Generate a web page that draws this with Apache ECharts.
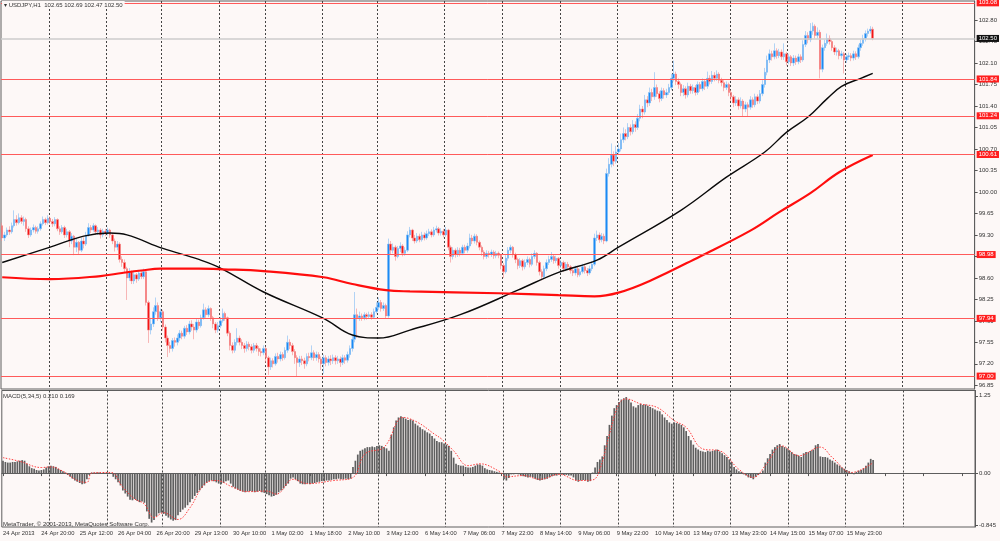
<!DOCTYPE html>
<html>
<head>
<meta charset="utf-8">
<title>USDJPY,H1</title>
<script src="https://cdn.jsdelivr.net/npm/echarts@6.0.0/dist/echarts.min.js"></script>
<style>
  html, body { margin: 0; padding: 0; background: #fdf8f7; }
  #chart { width: 1000px; height: 541px; }
</style>
</head>
<body>
<div id="chart"></div>
<script>
// USDJPY H1 bars (24 Apr 2013 04:00 .. 16 May)
// each bar opens at the previous close, the first one at firstOpen
const firstOpen = 99.45;

const closes = [
  99.25,99.30,99.38,99.35,99.45,99.55,99.50,99.58,99.52,99.55,
  99.40,99.30,99.38,99.42,99.36,99.40,99.48,99.55,99.50,99.57,
  99.52,99.48,99.55,99.40,99.35,99.42,99.30,99.35,99.20,99.28,
  99.10,99.18,99.05,99.20,99.15,99.30,99.42,99.38,99.45,99.35,
  99.38,99.30,99.36,99.33,99.38,99.30,99.20,99.10,99.15,98.90,
  98.85,98.75,98.60,98.70,98.55,98.65,98.58,98.68,98.62,98.70,
  98.20,97.75,97.85,98.05,98.15,97.95,98.05,97.80,97.62,97.50,
  97.45,97.58,97.55,97.62,97.70,97.65,97.78,97.72,97.85,97.80,
  97.75,97.88,97.82,97.95,98.08,98.00,98.10,97.95,97.85,97.75,
  97.82,97.90,98.02,97.95,97.70,97.50,97.42,97.55,97.62,97.55,
  97.50,97.45,97.52,97.48,97.42,97.50,97.45,97.40,97.38,97.45,
  97.30,97.15,97.25,97.20,97.32,97.28,97.35,97.30,97.42,97.55,
  97.50,97.40,97.30,97.22,97.28,97.25,97.20,97.32,97.30,97.38,
  97.30,97.35,97.28,97.20,97.30,97.22,97.28,97.25,97.30,97.25,
  97.28,97.22,97.30,97.26,97.35,97.45,97.60,98.00,97.95,97.98,
  97.95,98.00,97.97,98.00,97.96,98.05,98.12,98.20,98.10,98.15,
  97.98,99.15,99.05,99.10,98.95,99.08,99.12,99.00,99.05,99.30,
  99.38,99.25,99.20,99.28,99.22,99.30,99.25,99.32,99.35,99.30,
  99.38,99.40,99.33,99.36,99.30,99.38,99.10,98.95,99.05,98.98,
  99.05,99.00,99.10,99.05,99.12,99.25,99.20,99.28,99.18,99.10,
  99.02,98.95,99.00,98.98,99.02,98.96,99.00,98.97,98.80,98.70,
  98.92,99.05,99.10,98.98,98.90,98.80,98.88,98.78,98.85,98.90,
  98.82,98.95,99.00,98.85,98.70,98.62,98.75,98.85,98.90,98.95,
  98.88,98.92,98.80,98.85,98.75,98.82,98.78,98.72,98.68,98.75,
  98.65,98.70,98.78,98.72,98.68,98.75,98.82,99.25,99.30,99.22,
  99.28,99.20,100.30,100.45,100.60,100.50,100.65,100.70,100.85,100.95,
  100.90,101.05,100.98,101.10,101.05,101.20,101.35,101.30,101.50,101.45,
  101.62,101.55,101.70,101.60,101.52,101.65,101.58,101.62,101.70,101.85,
  101.92,101.80,101.75,101.62,101.68,101.58,101.72,101.65,101.70,101.62,
  101.75,101.68,101.80,101.72,101.85,101.80,101.90,101.85,101.92,101.82,
  101.78,101.70,101.75,101.62,101.55,101.45,101.50,101.40,101.48,101.35,
  101.42,101.38,101.50,101.42,101.55,101.48,101.60,101.75,101.95,102.15,
  102.25,102.20,102.30,102.22,102.28,102.20,102.25,102.12,102.20,102.10,
  102.18,102.12,102.20,102.15,102.40,102.55,102.48,102.62,102.70,102.55,
  102.60,102.00,102.35,102.42,102.50,102.45,102.35,102.28,102.30,102.22,
  102.25,102.15,102.20,102.22,102.18,102.25,102.20,102.35,102.42,102.50,
  102.58,102.62,102.65,102.50
];

const highs = [
  99.50,99.35,99.42,99.44,99.50,99.70,99.62,99.65,99.62,99.60,
  99.58,99.44,99.42,99.47,99.45,99.44,99.52,99.60,99.58,99.62,
  99.60,99.56,99.59,99.57,99.44,99.46,99.45,99.40,99.38,99.33,
  99.30,99.24,99.20,99.25,99.26,99.35,99.49,99.46,99.49,99.47,
  99.43,99.41,99.40,99.40,99.42,99.40,99.33,99.24,99.20,99.18,
  98.95,98.90,98.78,98.76,98.72,98.70,98.68,98.73,98.72,98.75,
  98.72,98.23,97.95,98.12,98.28,98.20,98.10,98.08,97.84,97.66,
  97.56,97.62,97.63,97.68,97.75,97.74,97.82,97.83,97.90,97.91,
  97.85,97.93,97.92,98.00,98.18,98.12,98.15,98.12,97.98,97.88,
  97.88,97.96,98.10,98.05,97.97,97.73,97.55,97.60,97.78,97.66,
  97.60,97.54,97.57,97.56,97.52,97.54,97.54,97.49,97.45,97.50,
  97.48,97.33,97.30,97.29,97.37,97.38,97.40,97.39,97.47,97.66,
  97.60,97.54,97.44,97.34,97.33,97.33,97.30,97.37,97.38,97.50,
  97.42,97.40,97.39,97.32,97.35,97.34,97.33,97.34,97.35,97.34,
  97.33,97.32,97.35,97.34,97.40,97.50,97.66,98.37,98.10,98.05,
  98.02,98.04,98.03,98.05,98.04,98.10,98.20,98.28,98.24,98.20,
  98.18,99.24,99.20,99.16,99.13,99.12,99.18,99.15,99.10,99.36,
  99.43,99.40,99.30,99.33,99.32,99.35,99.34,99.37,99.40,99.39,
  99.43,99.45,99.43,99.41,99.40,99.43,99.40,99.13,99.10,99.08,
  99.10,99.09,99.14,99.14,99.17,99.32,99.30,99.32,99.31,99.21,
  99.13,99.05,99.05,99.04,99.06,99.05,99.04,99.03,98.99,98.84,
  98.97,99.10,99.14,99.12,99.01,98.93,98.92,98.91,98.90,98.95,
  98.93,99.00,99.05,99.02,98.88,98.74,98.80,98.90,98.96,99.02,
  98.98,98.96,98.94,98.89,98.88,98.86,98.86,98.81,98.76,98.80,
  98.78,98.75,98.83,98.81,98.76,98.80,98.87,99.32,99.37,99.34,
  99.33,99.32,100.38,100.55,100.79,100.66,100.75,100.80,100.95,101.05,
  101.02,101.12,101.10,101.17,101.15,101.27,101.42,101.40,101.58,101.56,
  101.70,101.68,101.95,101.75,101.64,101.70,101.69,101.68,101.76,101.92,
  102.14,101.96,101.85,101.78,101.74,101.72,101.78,101.76,101.75,101.74,
  101.80,101.79,101.85,101.84,101.96,101.90,101.97,101.95,101.98,101.95,
  101.86,101.82,101.80,101.78,101.66,101.58,101.56,101.54,101.54,101.51,
  101.47,101.46,101.56,101.54,101.60,101.59,101.66,101.82,102.02,102.22,
  102.32,102.30,102.42,102.34,102.33,102.32,102.42,102.28,102.25,102.23,
  102.23,102.22,102.25,102.24,102.47,102.62,102.60,102.75,102.76,102.73,
  102.68,102.64,102.40,102.48,102.58,102.55,102.48,102.39,102.35,102.33,
  102.30,102.28,102.25,102.27,102.26,102.30,102.29,102.40,102.48,102.56,
  102.63,102.66,102.70,102.69
];

const lows = [
  99.20,99.20,99.27,99.30,99.32,99.42,99.45,99.47,99.48,99.45,
  99.35,99.25,99.27,99.34,99.32,99.32,99.37,99.45,99.46,99.47,
  99.48,99.43,99.44,99.36,99.30,99.32,99.25,99.26,99.10,99.15,
  98.97,99.02,98.98,99.02,99.08,99.12,99.27,99.33,99.35,99.30,
  99.30,99.24,99.26,99.28,99.29,99.25,99.15,99.03,99.05,98.85,
  98.78,98.68,98.24,98.55,98.50,98.50,98.52,98.55,98.58,98.58,
  98.15,97.54,97.68,97.80,98.00,97.90,97.88,97.74,97.55,97.31,
  97.38,97.40,97.48,97.50,97.57,97.60,97.61,97.67,97.68,97.74,
  97.60,97.71,97.77,97.79,97.92,97.95,97.96,97.90,97.78,97.70,
  97.71,97.78,97.87,97.90,97.65,97.42,97.37,97.38,97.50,97.50,
  97.44,97.38,97.40,97.42,97.37,97.38,97.40,97.33,97.32,97.34,
  97.22,97.02,97.10,97.14,97.17,97.22,97.24,97.25,97.27,97.38,
  97.44,97.34,97.20,97.00,97.15,97.18,97.12,97.16,97.24,97.26,
  97.25,97.25,97.22,97.10,97.04,97.16,97.17,97.18,97.20,97.19,
  97.20,97.15,97.18,97.20,97.22,97.30,97.40,97.55,97.62,97.90,
  97.90,97.91,97.92,97.93,97.92,97.93,98.02,98.08,98.05,98.06,
  97.94,97.95,98.98,99.00,98.88,98.92,99.02,98.95,98.96,99.02,
  99.26,99.20,99.16,99.17,99.18,99.19,99.21,99.22,99.28,99.26,
  99.27,99.34,99.29,99.29,99.26,99.27,99.05,98.85,98.90,98.93,
  98.94,98.95,98.97,99.00,99.01,99.08,99.15,99.16,99.13,99.05,
  98.96,98.90,98.91,98.93,98.94,98.91,98.92,98.92,98.74,98.60,
  98.67,98.88,99.00,98.93,98.84,98.74,98.76,98.72,98.74,98.81,
  98.77,98.79,98.91,98.80,98.64,98.56,98.59,98.71,98.81,98.86,
  98.83,98.84,98.75,98.76,98.70,98.71,98.73,98.67,98.63,98.64,
  98.61,98.62,98.67,98.67,98.63,98.65,98.71,98.79,99.20,99.17,
  99.18,99.15,99.18,100.25,100.40,100.42,100.46,100.60,100.66,100.80,
  100.84,100.86,100.92,100.94,100.98,101.01,101.15,101.20,101.26,101.38,
  101.40,101.48,101.50,101.55,101.46,101.48,101.52,101.53,101.58,101.66,
  101.80,101.74,101.68,101.56,101.56,101.52,101.54,101.60,101.60,101.57,
  101.58,101.63,101.64,101.66,101.68,101.75,101.76,101.80,101.81,101.77,
  101.72,101.64,101.66,101.56,101.48,101.38,101.40,101.34,101.36,101.22,
  101.30,101.22,101.34,101.37,101.38,101.43,101.44,101.56,101.70,101.90,
  102.10,102.14,102.16,102.17,102.18,102.15,102.15,102.06,102.08,102.05,
  102.05,102.07,102.08,102.10,102.12,102.36,102.42,102.44,102.56,102.50,
  102.50,101.85,101.95,102.30,102.38,102.40,102.30,102.23,102.22,102.16,
  102.17,101.93,102.10,102.15,102.13,102.14,102.15,102.17,102.30,102.38,
  102.45,102.53,102.58,102.47
];

// MACD(5,34,5) main histogram, one value per bar
const macd = [
  0.20,0.18,0.17,0.17,0.18,0.18,0.19,0.20,0.21,0.20,
  0.15,0.11,0.08,0.07,0.05,0.04,0.05,0.06,0.09,0.11,
  0.12,0.11,0.10,0.07,0.05,0.03,0.01,-0.03,-0.06,-0.09,
  -0.12,-0.14,-0.16,-0.18,-0.17,-0.10,-0.03,0.01,0.01,0.01,
  0.01,0.00,0.01,0.00,0.00,-0.01,-0.06,-0.10,-0.15,-0.20,
  -0.28,-0.33,-0.38,-0.43,-0.44,-0.42,-0.45,-0.47,-0.46,-0.48,
  -0.62,-0.74,-0.80,-0.76,-0.70,-0.65,-0.64,-0.66,-0.69,-0.72,
  -0.75,-0.77,-0.76,-0.68,-0.63,-0.59,-0.56,-0.52,-0.47,-0.42,
  -0.37,-0.32,-0.28,-0.24,-0.20,-0.16,-0.13,-0.12,-0.13,-0.15,
  -0.17,-0.18,-0.16,-0.13,-0.12,-0.17,-0.22,-0.25,-0.27,-0.29,
  -0.30,-0.31,-0.30,-0.29,-0.30,-0.31,-0.30,-0.29,-0.31,-0.32,
  -0.34,-0.36,-0.38,-0.37,-0.35,-0.31,-0.28,-0.25,-0.21,-0.17,
  -0.09,-0.07,-0.10,-0.13,-0.17,-0.18,-0.18,-0.17,-0.18,-0.17,
  -0.16,-0.15,-0.14,-0.13,-0.13,-0.12,-0.12,-0.11,-0.10,-0.10,
  -0.09,-0.10,-0.10,-0.09,-0.10,-0.09,0.10,0.20,0.30,0.36,
  0.38,0.40,0.42,0.42,0.43,0.42,0.44,0.45,0.44,0.42,
  0.40,0.36,0.62,0.74,0.85,0.90,0.92,0.90,0.88,0.86,
  0.87,0.85,0.80,0.77,0.74,0.71,0.69,0.66,0.64,0.60,
  0.56,0.52,0.50,0.50,0.48,0.46,0.44,0.36,0.25,0.15,
  0.13,0.12,0.12,0.10,0.09,0.09,0.10,0.12,0.14,0.14,
  0.12,0.08,0.06,0.05,0.04,0.03,0.02,0.01,0.00,-0.10,
  -0.12,-0.08,-0.02,-0.02,-0.01,-0.02,-0.04,-0.05,-0.06,-0.07,
  -0.06,-0.07,-0.09,-0.11,-0.12,-0.11,-0.10,-0.09,-0.07,-0.05,
  -0.04,-0.04,-0.02,-0.02,-0.03,-0.03,-0.04,-0.04,-0.07,-0.12,
  -0.14,-0.12,-0.11,-0.12,-0.14,-0.13,0.01,0.09,0.18,0.22,
  0.27,0.45,0.60,0.78,0.93,1.05,1.10,1.15,1.19,1.21,
  1.23,1.19,1.14,1.08,1.06,1.10,1.12,1.10,1.11,1.09,
  1.07,1.05,1.03,1.01,1.00,0.95,0.90,0.86,0.82,0.80,
  0.82,0.81,0.80,0.78,0.74,0.68,0.60,0.53,0.46,0.41,
  0.38,0.36,0.35,0.34,0.36,0.35,0.36,0.37,0.38,0.35,
  0.32,0.29,0.26,0.22,0.18,0.10,0.06,0.03,0.02,-0.02,
  -0.04,-0.07,-0.08,-0.10,-0.06,-0.03,0.00,0.04,0.17,0.24,
  0.31,0.38,0.42,0.45,0.47,0.44,0.42,0.40,0.37,0.34,
  0.31,0.30,0.28,0.26,0.32,0.34,0.34,0.36,0.38,0.45,
  0.47,0.27,0.26,0.26,0.25,0.22,0.20,0.17,0.14,0.12,
  0.09,0.07,0.05,0.03,0.01,-0.02,0.02,0.04,0.05,0.08,
  0.12,0.17,0.23,0.21
];

// signal line (red dotted), [bar, value] as read at visible turns
const signalPts = [
  [0,0.25],[7,0.19],[16,0.09],[20,0.10],[25,0.03],[31,-0.12],[35,-0.15],[37,0.00],
  [45,0.01],[50,-0.23],[55,-0.42],[59,-0.50],[63,-0.72],[67,-0.64],[73,-0.75],
  [78,-0.56],[84,-0.18],[89,-0.12],[96,-0.23],[102,-0.30],[110,-0.29],[114,-0.34],
  [121,-0.10],[127,-0.17],[138,-0.12],[146,-0.07],[151,0.31],[159,0.42],[167,0.90],
  [173,0.82],[180,0.63],[183,0.55],[188,0.36],[194,0.12],[199,0.15],[207,0.03],
  [210,-0.06],[217,-0.04],[224,-0.10],[232,-0.02],[240,-0.12],[246,-0.11],[249,0.06],
  [253,0.63],[257,1.12],[260,1.20],[266,1.12],[273,1.06],[280,0.85],[285,0.74],
  [292,0.39],[299,0.36],[307,0.06],[313,-0.07],[318,0.12],[325,0.44],[332,0.28],
  [341,0.42],[346,0.25],[354,0.01],[363,0.169]
];

// moving averages, [bar, price]
const maBlackPts = [
  [0,98.85],[20,99.10],[34,99.28],[45,99.33],[52,99.30],[67,99.08],[82,98.90],
  [91,98.76],[109,98.37],[134,97.94],[146,97.67],[157,97.62],[170,97.75],[191,98.00],
  [215,98.40],[232,98.69],[248,98.89],[257,99.10],[283,99.70],[302,100.24],
  [318,100.65],[327,100.97],[336,101.22],[344,101.52],[350,101.72],[358,101.85],[363,101.93]
];
const maRedPts = [
  [0,98.61],[20,98.58],[41,98.63],[50,98.68],[58,98.72],[66,98.75],[82,98.75],
  [92,98.74],[109,98.71],[134,98.61],[146,98.50],[160,98.40],[170,98.38],[207,98.35],
  [232,98.32],[247,98.30],[257,98.36],[270,98.55],[291,98.95],[312,99.37],
  [324,99.67],[337,99.98],[349,100.32],[363,100.60]
];

const levels = [103.08, 101.84, 101.24, 100.61, 98.98, 97.94, 97.00];
const lastPrice = 102.50;

const priceTicks = [96.85, 97.20, 97.55, 97.90, 98.25, 98.60, 98.95, 99.30, 99.65,
  100.00, 100.35, 100.70, 101.05, 101.40, 101.75, 102.10, 102.45, 102.80];
const macdTicks = [1.25, 0, -0.845];

// one label every 16 bars
const xLabels = ['24 Apr 2013', '24 Apr 20:00', '25 Apr 12:00', '26 Apr 04:00', '26 Apr 20:00',
  '29 Apr 13:00', '30 Apr 10:00', '1 May 02:00', '1 May 18:00', '2 May 10:00', '3 May 12:00',
  '6 May 14:00', '7 May 06:00', '7 May 22:00', '8 May 14:00', '9 May 06:00', '9 May 22:00',
  '10 May 14:00', '13 May 07:00', '13 May 23:00', '14 May 15:00', '15 May 07:00', '15 May 23:00'];

// bars where a new day starts (dotted vertical grid)
const dayBreaks = [20, 44, 67, 91, 110, 134, 157, 185, 209, 233, 257, 280, 304, 328, 352, 376];

const SLOTS = 406;   // bars + empty shift area on the right

// ── build ────────────────────────────────────────────────────────────────
const BG = '#fdf8f7';
const FONT = 'Liberation Sans';
const slots = Array.from({ length: SLOTS }, (_, i) => String(i));
const candles = closes.map((c, i) => [i ? closes[i - 1] : firstOpen, c, lows[i], highs[i]]);

const gridSplit = {
  show: true,
  interval: (i) => dayBreaks.includes(i),
  lineStyle: { color: '#444', type: [2, 2], width: 1 }
};

const chart = echarts.init(document.getElementById('chart'), null, { renderer: 'canvas' });

chart.setOption({
  animation: false,
  backgroundColor: BG,
  textStyle: { fontFamily: FONT },
  title: [
    {
      text: '\u25BE USDJPY,H1  102.65 102.69 102.47 102.50',
      left: 2, top: 1, padding: [1, 2],
      backgroundColor: BG,
      textStyle: { fontSize: 6, fontWeight: 'normal', color: '#333', fontFamily: FONT }
    },
    {
      text: 'MACD(5,34,5) 0.210 0.169',
      left: 3, top: 393, padding: 0,
      textStyle: { fontSize: 6, fontWeight: 'normal', color: '#333', fontFamily: FONT }
    },
    {
      text: 'MetaTrader, \u00A9 2001-2013, MetaQuotes Software Corp.',
      left: 3, top: 521, padding: 0,
      textStyle: { fontSize: 6, fontWeight: 'normal', color: '#333', fontFamily: FONT }
    }
  ],
  grid: [
    { left: 1, right: 25, top: 1, height: 388, show: true, borderColor: '#5e5e5e', borderWidth: 1, backgroundColor: 'transparent' },
    { left: 1, right: 25, top: 390.5, height: 136.5, show: true, borderColor: '#5e5e5e', borderWidth: 1, backgroundColor: 'transparent' }
  ],
  xAxis: [
    {
      type: 'category', gridIndex: 0, data: slots,
      axisLine: { show: false }, axisTick: { show: false }, axisLabel: { show: false },
      splitLine: gridSplit
    },
    {
      type: 'category', gridIndex: 1, data: slots,
      axisLine: { show: true, lineStyle: { color: '#5e5e5e' } },
      axisTick: { show: true, interval: 15, alignWithLabel: true, length: 3, lineStyle: { color: '#555' } },
      axisLabel: {
        interval: 15, align: 'left', margin: 3,
        fontSize: 5.8, color: '#333', fontFamily: FONT,
        formatter: (v, i) => xLabels[i / 16] || ''
      },
      splitLine: gridSplit
    }
  ],
  yAxis: [
    {
      type: 'value', gridIndex: 0, position: 'right',
      min: 96.79, max: 103.11,
      axisLine: { show: true, lineStyle: { color: '#5e5e5e' } },
      axisTick: { show: true, customValues: priceTicks, length: 3, lineStyle: { color: '#555' } },
      axisLabel: {
        customValues: priceTicks, margin: 4,
        fontSize: 6, color: '#333', fontFamily: FONT,
        formatter: (v) => v.toFixed(2)
      },
      splitLine: { show: false }
    },
    {
      type: 'value', gridIndex: 1, position: 'right',
      min: -0.872, max: 1.336,
      axisLine: { show: true, lineStyle: { color: '#5e5e5e' } },
      axisTick: { show: true, customValues: macdTicks, length: 3, lineStyle: { color: '#555' } },
      axisLabel: {
        customValues: macdTicks, margin: 4,
        fontSize: 6, color: '#333', fontFamily: FONT,
        formatter: (v) => (v === -0.845 ? '-0.845' : v.toFixed(2))
      },
      splitLine: { show: false }
    }
  ],
  series: [
    {
      name: 'USDJPY', type: 'candlestick', xAxisIndex: 0, yAxisIndex: 0,
      data: candles, barWidth: 2,
      itemStyle: {
        color: '#1a8af5', color0: '#f41414',
        borderColor: '#7fbaf3', borderColor0: '#f38a8a', borderWidth: 0.6
      },
      markLine: {
        silent: true, symbol: 'none', animation: false,
        data: [
          ...levels.map((v) => ({
            yAxis: v,
            lineStyle: { color: '#ff5a5a', width: 1, type: 'solid' },
            label: {
              show: true, position: 'end', distance: 2,
              formatter: v.toFixed(2), color: '#fff', backgroundColor: '#ff1e1e',
              fontSize: 6, fontFamily: FONT, padding: [1, 2, 0, 2]
            }
          })),
          {
            yAxis: lastPrice,
            lineStyle: { color: '#cccccc', width: 1.5, type: 'solid' },
            label: {
              show: true, position: 'end', distance: 2,
              formatter: lastPrice.toFixed(2), color: '#fff', backgroundColor: '#111',
              fontSize: 6, fontFamily: FONT, padding: [1, 2, 0, 2]
            }
          }
        ]
      },
      z: 3
    },
    {
      name: 'MA black', type: 'line', xAxisIndex: 0, yAxisIndex: 0,
      data: maBlackPts, smooth: 0.4, symbol: 'none',
      lineStyle: { color: '#0a0a0a', width: 1.4 }, z: 4
    },
    {
      name: 'MA red', type: 'line', xAxisIndex: 0, yAxisIndex: 0,
      data: maRedPts, smooth: 0.4, symbol: 'none',
      lineStyle: { color: '#ff0d0d', width: 2.2 }, z: 4
    },
    {
      name: 'MACD', type: 'bar', xAxisIndex: 1, yAxisIndex: 1,
      data: macd, barWidth: 1.7,
      itemStyle: { color: '#5f5f5f' }
    },
    {
      name: 'Signal', type: 'line', xAxisIndex: 1, yAxisIndex: 1,
      data: signalPts, smooth: 0.4, symbol: 'none',
      lineStyle: { color: '#ff3a3a', width: 1, type: [1.5, 1.5] }, z: 4
    }
  ]
});
</script>
</body>
</html>
